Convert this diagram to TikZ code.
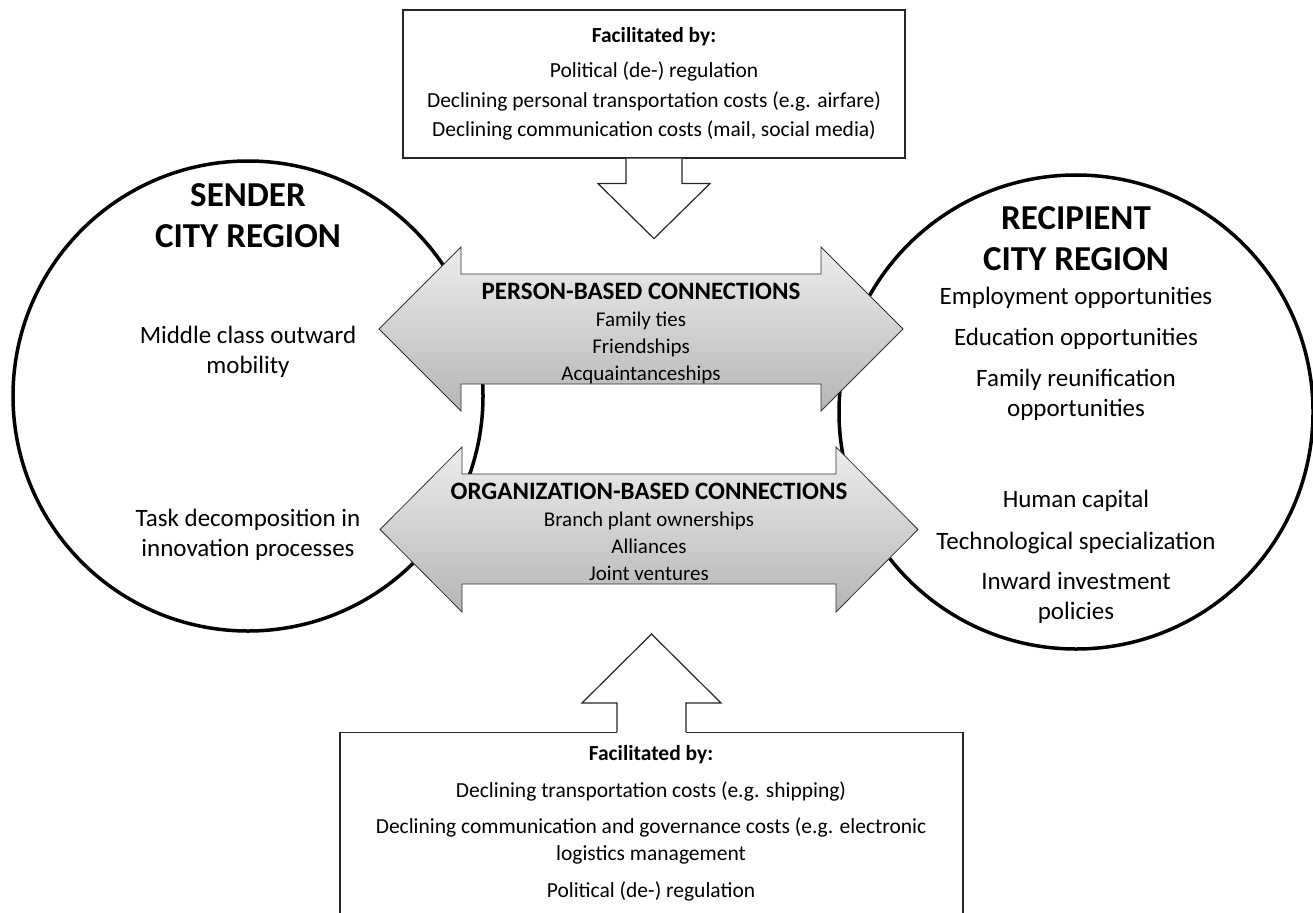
\documentclass[tikz,border=0pt]{standalone}
\usepackage{fontspec}
\setmainfont{Carlito}
\usetikzlibrary{positioning}

\begin{document}
\begin{tikzpicture}[x=1pt,y=-1pt,
		region/.style={circle,
					draw=black,
					line width=3.5pt,
					inner sep=0pt},
		infobox/.style={rectangle,
					draw=black!85,
					line width=1.2pt,
					fill=white,
					align=center},
		linkarrow/.style={draw=black!80,
					line width=0.8pt,
					top color=black!7,
					bottom color=black!29},
		pusharrow/.style={draw=black!85,
					line width=1.2pt,
					fill=white},
		regiontitle/.style={font=\fontsize{35}{41}\selectfont\bfseries, align=center},
		regiontext/.style={font=\fontsize{25}{30}\selectfont, align=center},
		linktext/.style={font=\fontsize{21}{27}\selectfont, align=center},
		boxtext/.style={font=\fontsize{21.5}{29.5}\selectfont, align=center}
		]

\clip (0,0) rectangle (1313,912);

%city regions
\node[region, minimum size=470pt] (sender) at (248,396) {};
\node[region, minimum size=474pt] (recipient) at (1076,412) {};

%sender texts
\node[regiontitle] (sendertitle) at (248,216) {SENDER\\CITY REGION};
\node[regiontext] (outward) at (248,352) {Middle class outward\\mobility};
\node[regiontext] (taskdec) at (248,535) {Task decomposition in\\innovation processes};

%recipient texts
\node[regiontitle] (recipienttitle) at (1076,239) {RECIPIENT\\CITY REGION};
\node[regiontext] (opportunities) at (1076,354) {Employment opportunities\\[11pt]Education opportunities\\[11pt]Family reunification\\opportunities};
\node[regiontext] (capital) at (1076,557) {Human capital\\[12pt]Technological specialization\\[10pt]Inward investment\\policies};

%person-based arrow
\path[linkarrow] (379,329) -- (461,247) -- (461,274) -- (821,274) -- (821,247) -- (903,329)
	-- (821,411) -- (821,384) -- (461,384) -- (461,411) -- cycle;
%organization-based arrow
\path[linkarrow] (380,529.5) -- (462,447) -- (462,474) -- (836,474) -- (836,447) -- (918,529.5)
	-- (836,612) -- (836,584) -- (462,584) -- (462,612) -- cycle;

\node[linktext] (persontext) at (641,333) {{\bfseries\fontsize{25}{27}\selectfont PERSON-BASED CONNECTIONS}\\Family ties\\Friendships\\Acquaintanceships};
\node[linktext] (orgtext) at (649,532) {{\bfseries\fontsize{25}{27}\selectfont ORGANIZATION-BASED CONNECTIONS}\\Branch plant ownerships\\Alliances\\Joint ventures};

%facilitators, person side
\node[infobox, boxtext, minimum width=502pt, minimum height=148pt] (topbox) at (654,84) {\textbf{Facilitated by:}\\[6pt]Political (de-) regulation\\Declining personal transportation costs (e.g. airfare)\\Declining communication costs (mail, social media)};
\coordinate (toptail) at (topbox.south);
\path[pusharrow] ([xshift=-28pt]toptail) -- ++(0,25) -- ++(-28,0) -- ([yshift=-80pt]toptail)
	-- ++(56,-55) -- ++(-28,0) -- ([xshift=28pt]toptail);

%facilitators, organization side
\node[infobox, minimum width=623pt, minimum height=240pt, anchor=north] (botbox) at (651.5,732) {};
\coordinate (bottail) at (botbox.north);
\fill[white] ([xshift=-34.5pt,yshift=-2pt]bottail) rectangle ([xshift=34.5pt,yshift=10pt]bottail);
\path[pusharrow] ([xshift=-34.5pt]bottail) -- ++(0,-29) -- ++(-35,0) -- ([yshift=98pt]bottail)
	-- ++(69.5,69) -- ++(-35,0) -- ([xshift=34.5pt]bottail);
\node[boxtext, font=\fontsize{21.5}{27}\selectfont] (bottext) at (651,823) {\textbf{Facilitated by:}\\[10pt]Declining transportation costs (e.g. shipping)\\[9pt]Declining communication and governance costs (e.g. electronic\\logistics management\\[10pt]Political (de-) regulation};
\end{tikzpicture}
\end{document}
